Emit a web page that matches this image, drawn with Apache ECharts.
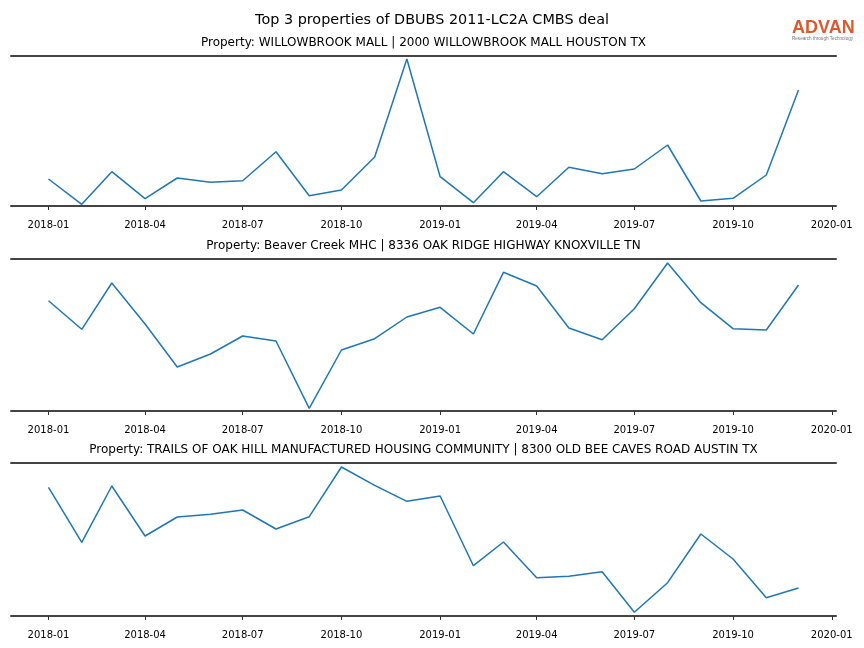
<!DOCTYPE html>
<html>
<head>
<meta charset="utf-8">
<script src="https://cdn.jsdelivr.net/npm/echarts@6/dist/echarts.min.js"></script>
<style>html,body{margin:0;padding:0;background:#fff}#c{width:864px;height:648px}</style>
</head>
<body>
<div id="c"></div>
<script>
// ---- data ----
const months = ['2018-01','2018-02','2018-03','2018-04','2018-05','2018-06','2018-07','2018-08','2018-09','2018-10','2018-11','2018-12',
                '2019-01','2019-02','2019-03','2019-04','2019-05','2019-06','2019-07','2019-08','2019-09','2019-10','2019-11','2019-12'];
const tickLabels = ['2018-01','2018-04','2018-07','2018-10','2019-01','2019-04','2019-07','2019-10','2020-01'];
const mainTitle = 'Top 3 properties of DBUBS 2011-LC2A CMBS deal';
const titles = [
  'Property: WILLOWBROOK MALL | 2000 WILLOWBROOK MALL HOUSTON TX',
  'Property: Beaver Creek MHC | 8336 OAK RIDGE HIGHWAY KNOXVILLE TN',
  'Property: TRAILS OF OAK HILL MANUFACTURED HOUSING COMMUNITY | 8300 OLD BEE CAVES ROAD AUSTIN TX'
];
const willowbrook = [27.0, 1.7, 34.3, 7.3, 28.0, 23.7, 25.3, 54.3, 10.3, 16.0, 49.0, 147.0,
                     29.3, 3.3, 34.3, 9.3, 38.7, 32.3, 37.0, 61.0, 5.0, 7.7, 31.0, 116.0];
const beaverCreek = [110.3, 81.7, 128.0, 87.0, 44.0, 57.0, 75.0, 70.0, 2.7, 61.0, 72.3, 94.0,
                     103.7, 77.0, 138.7, 125.0, 83.0, 71.3, 102.3, 148.0, 108.3, 82.3, 81.0, 126.0];
const trailsOakHill = [128.7, 73.7, 130.0, 80.0, 99.0, 101.7, 106.0, 87.0, 99.3, 149.0, 130.7, 114.7,
                       120.0, 50.3, 74.0, 38.3, 39.7, 44.3, 3.7, 33.3, 82.0, 57.0, 18.3, 28.0];
const seriesList = [willowbrook, beaverCreek, trailsOakHill];
const yMax = [150, 152, 153];

// ---- build ----
const ts = s => { const [y, m] = s.split('-').map(Number); return Date.UTC(y, m - 1, 1); };
const x0 = ts(months[0]), x1 = ts(months[months.length - 1]);
const pad = (x1 - x0) * 0.05;
const xMin = x0 - pad, xMax = x1 + pad;
const tickVals = tickLabels.map(ts);
const fmt = v => { const d = new Date(v); return d.getUTCFullYear() + '-' + String(d.getUTCMonth() + 1).padStart(2, '0'); };

const gridTops = [56, 259, 463];
const gridHeights = [150, 152, 153];
const grids = [], xAxes = [], yAxes = [], series = [], titleArr = [];
const font = 'DejaVu Sans';

titleArr.push({ text: mainTitle, left: 'center', top: 13, padding: 0,
  textStyle: { fontFamily: font, fontSize: 14.4, fontWeight: 'normal', color: '#000' } });

seriesList.forEach((vals, i) => {
  grids.push({ left: 11, right: 28, top: gridTops[i], height: gridHeights[i] });
  titleArr.push({ text: titles[i], left: 423.5, textAlign: 'center', top: gridTops[i] - 19, padding: 0,
    textStyle: { fontFamily: font, fontSize: 12, fontWeight: 'normal', color: '#000' } });
  const base = { type: 'value', gridIndex: i, min: xMin, max: xMax, splitLine: { show: false } };
  const ia = xAxes.length;
  // bottom spine
  xAxes.push(Object.assign({}, base, { position: 'bottom', axisLine: { show: true, onZero: false, lineStyle: { color: '#444', width: 2 } },
    axisTick: { show: false }, axisLabel: { show: false } }));
  // ticks + labels
  xAxes.push(Object.assign({}, base, { position: 'bottom', offset: 6, axisLine: { show: false },
    axisTick: { show: true, length: 4, customValues: tickVals, lineStyle: { color: '#333', width: 1 } },
    axisLabel: { show: true, customValues: tickVals, formatter: fmt, fontFamily: font, fontSize: 10, color: '#000', margin: 8 } }));
  // top spine
  xAxes.push(Object.assign({}, base, { position: 'top', axisLine: { show: true, onZero: false, lineStyle: { color: '#444', width: 2 } },
    axisTick: { show: false }, axisLabel: { show: false } }));
  yAxes.push({ type: 'value', gridIndex: i, min: 0, max: yMax[i], show: false });
  series.push({ type: 'line', xAxisIndex: ia, yAxisIndex: i, symbol: 'none', animation: false,
    lineStyle: { color: '#1f77b4', width: 1.5 },
    data: months.map((m, k) => [ts(m), vals[k]]) });
});

const chart = echarts.init(document.getElementById('c'), null, { renderer: 'canvas' });
chart.setOption({
  animation: false,
  backgroundColor: '#fff',
  title: titleArr,
  grid: grids,
  xAxis: xAxes,
  yAxis: yAxes,
  series: series,
  graphic: [
    { type: 'text', left: 792, top: 19, style: { text: 'ADVAN', fontFamily: 'Liberation Sans', fontSize: 18, fontWeight: 'bold', fill: '#dd5a2f' } },
    { type: 'text', left: 792, top: 36, style: { text: 'Research through Technology', fontFamily: 'Liberation Sans', fontSize: 4.6, fill: '#777' } }
  ]
});
</script>
</body>
</html>
